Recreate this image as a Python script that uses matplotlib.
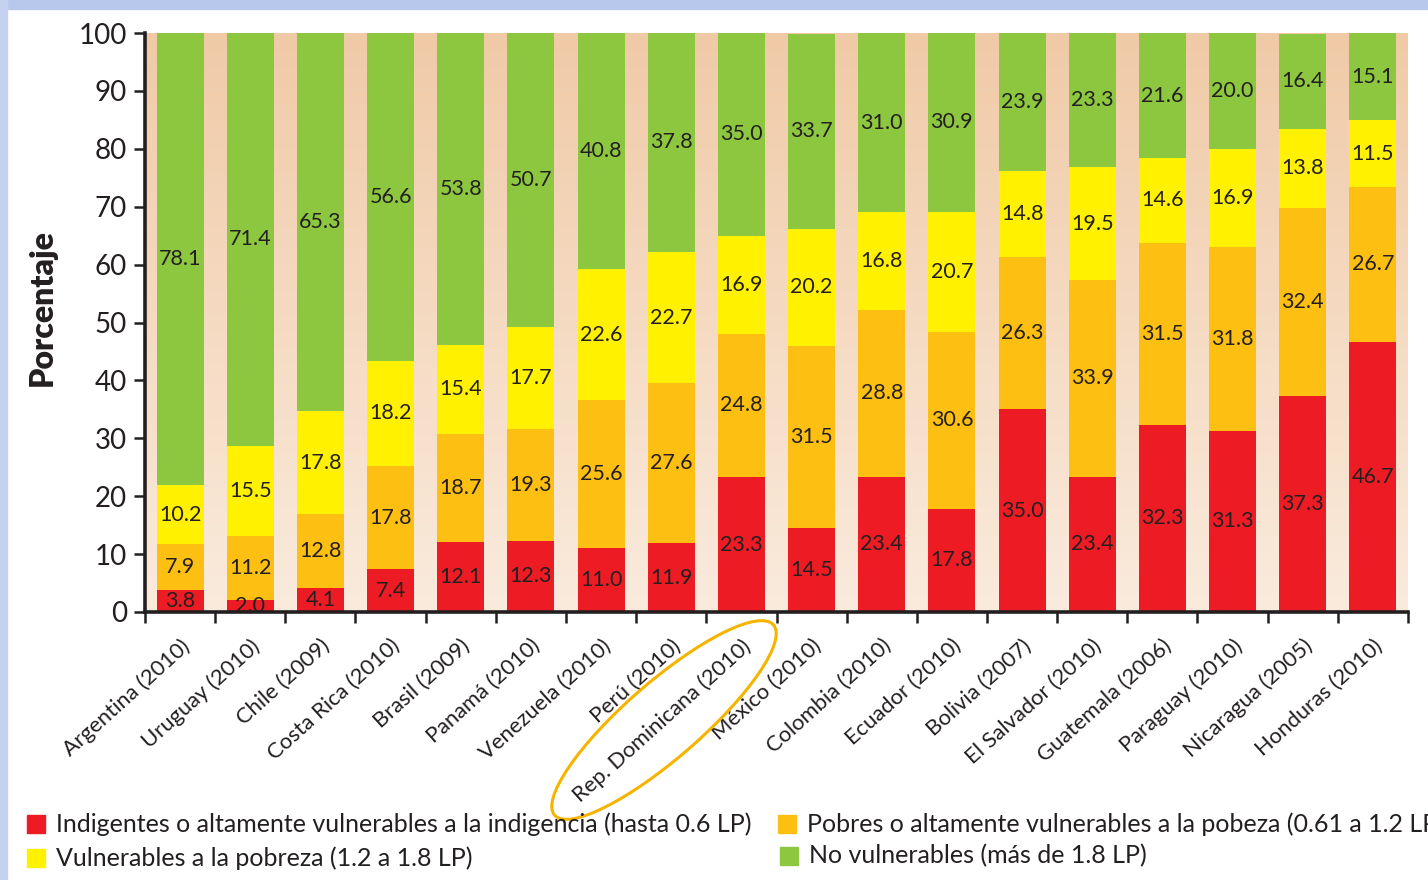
import numpy as np
import matplotlib
matplotlib.use('Agg')
import matplotlib.pyplot as plt
from matplotlib.patches import Ellipse, Rectangle
from matplotlib.colors import LinearSegmentedColormap
from matplotlib.transforms import IdentityTransform

plt.rcParams['font.family'] = ['Lato', 'DejaVu Sans']

countries = ['Argentina (2010)', 'Uruguay (2010)', 'Chile (2009)', 'Costa Rica (2010)',
             'Brasil (2009)', 'Panamá (2010)', 'Venezuela (2010)', 'Perú (2010)',
             'Rep. Dominicana (2010)', 'México (2010)', 'Colombia (2010)', 'Ecuador (2010)',
             'Bolivia (2007)', 'El Salvador (2010)', 'Guatemala (2006)', 'Paraguay (2010)',
             'Nicaragua (2005)', 'Honduras (2010)']

indigentes = [3.8, 2.0, 4.1, 7.4, 12.1, 12.3, 11.0, 11.9, 23.3, 14.5, 23.4, 17.8, 35.0, 23.4, 32.3, 31.3, 37.3, 46.7]
pobres = [7.9, 11.2, 12.8, 17.8, 18.7, 19.3, 25.6, 27.6, 24.8, 31.5, 28.8, 30.6, 26.3, 33.9, 31.5, 31.8, 32.4, 26.7]
vulnerables = [10.2, 15.5, 17.8, 18.2, 15.4, 17.7, 22.6, 22.7, 16.9, 20.2, 16.8, 20.7, 14.8, 19.5, 14.6, 16.9, 13.8, 11.5]
no_vulnerables = [78.1, 71.4, 65.3, 56.6, 53.8, 50.7, 40.8, 37.8, 35.0, 33.7, 31.0, 30.9, 23.9, 23.3, 21.6, 20.0, 16.4, 15.1]

series_labels = ['Indigentes o altamente vulnerables a la indigencia (hasta 0.6 LP)',
                 'Pobres o altamente vulnerables a la pobeza (0.61 a 1.2 LP)',
                 'Vulnerables a la pobreza (1.2 a 1.8 LP)',
                 'No vulnerables (más de 1.8 LP)']
colors = ['#ED1C24', '#FDBF12', '#FFF100', '#8DC63F']
txt = '#231F20'

W, H = 1428, 880
fig = plt.figure(figsize=(W / 100, H / 100), dpi=100)
ax = fig.add_axes([145 / W, 1 - 612 / H, (1408 - 145) / W, (612 - 33) / H])

# peach gradient background
bg = LinearSegmentedColormap.from_list('bg', ['#F0CAA7', '#FAEBDD'])
ax.imshow(np.linspace(0, 1, 256).reshape(-1, 1), cmap=bg, extent=(-0.5, 17.5, 0, 100),
          aspect='auto', zorder=0)

x = np.arange(len(countries))
bottom = np.zeros(len(countries))
for vals, c in zip([indigentes, pobres, vulnerables, no_vulnerables], colors):
    vals = np.array(vals)
    ax.bar(x, vals, width=0.67, bottom=bottom, color=c, zorder=2)
    for xi, v, b in zip(x, vals, bottom):
        ax.text(xi, b + v / 2, f'{v:.1f}', ha='center', va='center', fontsize=15.5,
                color=txt, zorder=3, clip_on=True)
    bottom += vals

ax.set_xlim(-0.5, 17.5)
ax.set_ylim(0, 100)
ax.set_yticks(range(0, 101, 10))
for s in ['top', 'right']:
    ax.spines[s].set_visible(False)
for s in ['left', 'bottom']:
    ax.spines[s].set_linewidth(2.6)
    ax.spines[s].set_color(txt)
    ax.spines[s].set_zorder(4)
ax.tick_params(axis='y', length=8, width=1.8, colors=txt, labelsize=20, pad=5)

ax.set_xticks(x)
ax.set_xticklabels(countries, rotation=42, ha='right', va='top', rotation_mode='anchor',
                   fontsize=15.8, color=txt)
ax.tick_params(axis='x', which='major', length=0, pad=17)
ax.set_xticks(np.arange(-0.5, 18, 1), minor=True)
ax.tick_params(axis='x', which='minor', length=8, width=1.8, color=txt)

fig.text(42 / W, 1 - 308 / H, 'Porcentaje', rotation=90, fontsize=23, fontweight='heavy',
         ha='center', va='center', color=txt)

# light blue frame edges
fig.patches.append(Rectangle((0, 1 - 9 / H), 1, 9 / H, transform=fig.transFigure,
                             color='#B8C8EC', zorder=0))
fig.patches.append(Rectangle((0, 0), 7 / W, 1, transform=fig.transFigure,
                             color='#C4D1F0', zorder=0))

# legend drawn by hand: (square left x, row centre y) in pixels
legend_pos = [(27, 824), (778, 824), (27, 858), (780, 856)]
for (lx, ly), lab, c in zip(legend_pos, series_labels, colors):
    fig.patches.append(Rectangle((lx / W, 1 - (ly + 9) / H), 18 / W, 18 / H,
                                 transform=fig.transFigure, color=c))
    fig.text((lx + 29) / W, 1 - ly / H, lab, ha='left', va='center', fontsize=18, color=txt)

# highlight ellipse around Rep. Dominicana
fig.add_artist(Ellipse((664, H - 720), 290, 76, angle=41, transform=IdentityTransform(),
                       fill=False, edgecolor='#F6B400', lw=2.2))

fig.savefig('out.png', dpi=100)
